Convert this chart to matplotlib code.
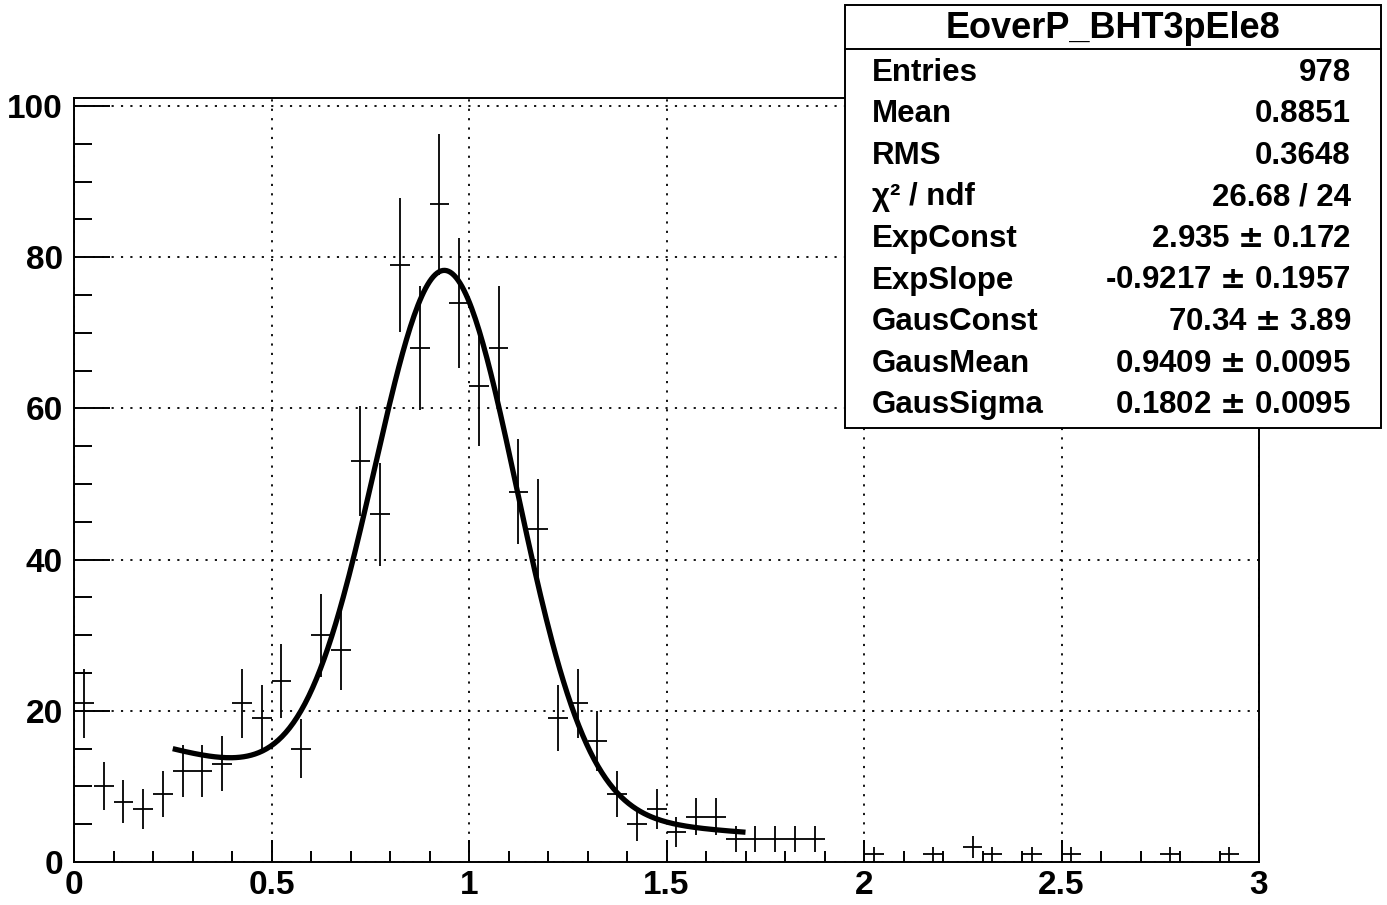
import matplotlib.pyplot as plt
import numpy as np
from matplotlib.ticker import MultipleLocator
from matplotlib.patches import Rectangle

plt.rcParams['font.family'] = ['Liberation Sans', 'DejaVu Sans']
plt.rcParams['font.weight'] = 'bold'

# histogram EoverP_BHT3pEle8, 60 bins from 0 to 3
bin_width = 0.05
counts = [21, 10, 8, 7, 9, 12, 12, 13, 21, 19,
          24, 15, 30, 28, 53, 46, 79, 68, 87, 74,
          63, 68, 49, 44, 19, 21, 16, 9, 5, 7,
          4, 6, 6, 3, 3, 3, 3, 3, 0, 0,
          1, 0, 0, 1, 0, 2, 1, 0, 1, 0,
          1, 0, 0, 0, 0, 1, 0, 0, 1, 0]

# fit: expo + gaus
exp_const = 2.935
exp_slope = -0.9217
gaus_const = 70.34
gaus_mean = 0.9409
gaus_sigma = 0.1802
fit_lo, fit_hi = 0.25, 1.7

stat_labels = ['Entries', 'Mean', 'RMS', 'χ² / ndf', 'ExpConst', 'ExpSlope',
               'GausConst', 'GausMean', 'GausSigma']
stat_values = ['978', '0.8851', '0.3648', '26.68 / 24', '2.935 $\\pm$ 0.172',
               '-0.9217 $\\pm$ 0.1957', '70.34 $\\pm$ 3.89', '0.9409 $\\pm$ 0.0095',
               '0.1802 $\\pm$ 0.0095']

counts = np.array(counts, dtype=float)
centers = (np.arange(len(counts)) + 0.5) * bin_width
filled = counts > 0

fig = plt.figure(figsize=(13.87, 9.05), dpi=100)
W, H = 1387, 905
ax = fig.add_axes([74 / W, 1 - 862 / H, (1259 - 74) / W, (862 - 98) / H])

ax.errorbar(centers[filled], counts[filled], xerr=bin_width / 2,
            yerr=np.sqrt(counts[filled]), fmt='none', ecolor='black',
            elinewidth=1.3, capsize=0)

xf = np.linspace(fit_lo, fit_hi, 300)
yf = np.exp(exp_const + exp_slope * xf) + \
    gaus_const * np.exp(-0.5 * ((xf - gaus_mean) / gaus_sigma) ** 2)
ax.plot(xf, yf, color='black', lw=3.8, solid_capstyle='butt')

ax.set_xlim(0, 3)
ax.set_ylim(0, 101.06)
ax.xaxis.set_major_locator(MultipleLocator(0.5))
ax.xaxis.set_minor_locator(MultipleLocator(0.1))
ax.yaxis.set_major_locator(MultipleLocator(20))
ax.yaxis.set_minor_locator(MultipleLocator(5))
ax.xaxis.set_major_formatter(plt.FuncFormatter(lambda v, p: f'{v:g}'))
ax.grid(True, which='major', color='black', linestyle=(0, (1.2, 4)), lw=1.3)
ax.tick_params(axis='both', which='both', direction='in', width=1.4,
               top=False, right=False, labelsize=24)
ax.tick_params(axis='x', which='major', length=16, pad=6)
ax.tick_params(axis='x', which='minor', length=8)
ax.tick_params(axis='y', which='major', length=26, pad=8)
ax.tick_params(axis='y', which='minor', length=13)
for lab in ax.get_xticklabels() + ax.get_yticklabels():
    lab.set_fontweight('bold')
for s in ax.spines.values():
    s.set_linewidth(1.4)

# stats box
bx0, bx1, by0, by1 = 845, 1381, 5, 428
fig.patches.append(Rectangle((bx0 / W, 1 - by1 / H), (bx1 - bx0) / W,
                             (by1 - by0) / H, transform=fig.transFigure,
                             facecolor='white', edgecolor='black', lw=1.4,
                             zorder=5))
fig.lines.append(plt.Line2D([bx0 / W, bx1 / W], [1 - 49 / H, 1 - 49 / H],
                            transform=fig.transFigure, color='black', lw=1.4,
                            zorder=6))
fig.text((bx0 + bx1) / 2 / W, 1 - 28 / H, 'EoverP_BHT3pEle8', ha='center',
         va='center', fontsize=26, fontweight='bold', zorder=7)
for i, (lab, val) in enumerate(zip(stat_labels, stat_values)):
    yc = 1 - (73 + i * 41.5) / H
    fig.text(872 / W, yc, lab, ha='left', va='center', fontsize=22.5,
             fontweight='bold', zorder=7)
    fig.text(1351 / W, yc, val, ha='right', va='center', fontsize=22.5,
             fontweight='bold', zorder=7)

fig.savefig('out.png', dpi=100)
